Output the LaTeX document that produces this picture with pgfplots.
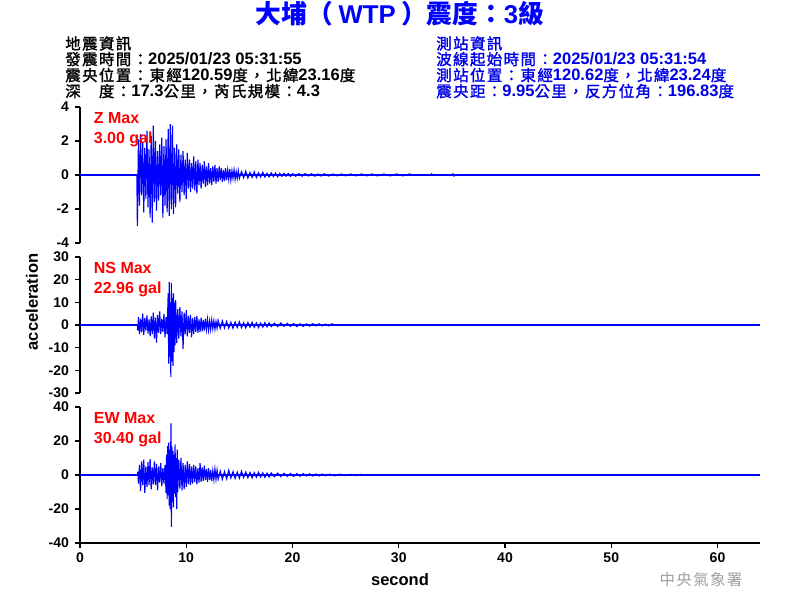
\documentclass[border=0pt]{standalone}
\usepackage{pgfplots}
\pgfplotsset{compat=1.18}
\usepackage{fontspec}
\setmainfont{Liberation Sans}
\newfontfamily\cjk{Noto Sans CJK TC}
\newfontfamily\cjkh[LetterSpace=9, FakeBold=1.6]{Noto Sans CJK TC}
\newfontfamily\cjkf[LetterSpace=9]{Noto Sans CJK TC}
\definecolor{tblue}{RGB}{0,0,255}
\definecolor{hdrblue}{RGB}{0,0,230}
\definecolor{lbred}{RGB}{255,0,0}
\pgfplotsset{
  panel/.style={
    scale only axis, width=510pt, height=102pt,
    xmin=0, xmax=64,
    axis y line*=left,
    axis line style={-, line width=0.9pt},
    tick align=outside,
    major tick length=3.75pt,
    every tick/.style={black, line width=0.9pt},
    yticklabel style={font=\bfseries\fontsize{10.5}{12}\selectfont, xshift=-1pt},
    xticklabel style={font=\bfseries\fontsize{10.5}{12}\selectfont},
    clip=false,
  },
  wave/.style={tblue, line width=0.85pt},
  zline/.style={tblue, line width=0.8pt},
}
\tikzset{lab/.style={anchor=base west, inner sep=0pt, text=lbred, font=\bfseries\fontsize{12}{14}\selectfont}}
\newcommand{\C}[1]{{\cjk\bfseries #1}}
\newcommand{\D}[1]{{\cjkh\mdseries\fontsize{11.6}{14}\selectfont #1}}
\newcommand{\F}[1]{{\cjkf\mdseries\fontsize{11.6}{14}\selectfont #1}}
\begin{document}
\begin{tikzpicture}
\path[use as bounding box] (0,0) rectangle (600pt,450pt);

% ---------- Z ----------
\begin{axis}[panel, at={(60pt,267.75pt)}, anchor=south west,
  ymin=-4, ymax=4, ytick={-4,-2,0,2,4}, yticklabels={-4,-2,0,2,4},
  hide x axis]
\addplot[zline] coordinates {(0,0) (64,0)};
\addplot[wave] coordinates {
(0,0) (5.35,0)
(5.4,-3.0) (5.5,2.1) (5.6,-1.8) (5.7,2.4) (5.8,-1.2) (5.9,1.9) (6.0,-2.2) (6.1,1.6) (6.2,-1.4) (6.3,2.6)
(6.4,-1.9) (6.5,1.5) (6.6,-2.5) (6.7,2.3) (6.8,-2.8) (6.9,2.9) (7.0,-1.6) (7.1,2.0) (7.2,-2.1) (7.3,1.4)
(7.4,-1.5) (7.5,1.8) (7.6,-1.2) (7.7,2.2) (7.8,-2.5) (7.9,1.7) (8.0,-1.8) (8.1,2.1) (8.2,-2.2) (8.3,2.7)
(8.4,-2.4) (8.5,3.0) (8.6,-2.0) (8.7,2.9) (8.8,-2.3) (8.9,1.6) (9.0,-1.9) (9.1,1.8) (9.2,-1.1) (9.3,1.5)
(9.4,-1.6) (9.5,1.2) (9.6,-1.0) (9.7,1.4) (9.8,-1.2) (9.9,0.9) (10.0,-1.4) (10.1,1.3) (10.2,-0.8) (10.3,0.9)
(10.4,-1.0) (10.5,0.7) (10.6,-0.8) (10.7,1.1) (10.8,-0.9) (10.9,0.8) (11.0,-1.1) (11.1,0.9) (11.2,-0.6) (11.3,0.7)
(11.4,-0.8) (11.5,0.6) (11.6,-0.5) (11.7,0.8) (11.8,-0.7) (11.9,0.5) (12.0,-0.6) (12.1,0.7) (12.2,-0.5) (12.3,0.4)
(12.4,-0.6) (12.5,0.5) (12.6,-0.4) (12.7,0.6) (12.8,-0.5) (12.9,0.4) (13.0,-0.4) (13.1,0.5) (13.2,-0.3) (13.3,0.4)
(13.4,-0.4) (13.5,0.3) (13.6,-0.35) (13.7,0.4) (13.8,-0.3) (13.9,0.3) (14.0,-0.25) (14.1,0.35) (14.2,-0.3) (14.3,0.25)
(14.4,-0.2) (14.5,0.3) (14.6,-0.25) (14.7,0.2) (14.8,-0.2) (14.9,0.25) (15.0,-0.2)
(15.2,0.2) (15.4,-0.16) (15.6,0.22) (15.8,-0.18) (16.0,0.15) (16.2,-0.14) (16.4,0.18) (16.6,-0.15) (16.8,0.13) (17.0,-0.12)
(17.2,0.16) (17.4,-0.12) (17.6,0.1) (17.8,-0.11) (18.0,0.13) (18.2,-0.09) (18.4,0.11) (18.6,-0.1) (18.8,0.09) (19.0,-0.08)
(19.2,0.1) (19.4,-0.07) (19.6,0.09) (19.8,-0.08) (20.0,0.08) (20.3,-0.07) (20.6,0.08) (20.9,-0.07) (21.2,0.08) (21.5,-0.06)
(21.8,0.07) (22.1,-0.07) (22.4,0.06) (22.7,-0.06) (23.0,0.07) (23.4,-0.06) (23.8,0.06) (24.2,-0.05) (24.6,0.06) (25.0,-0.05)
(25.5,0.06) (26.0,-0.05) (26.5,0.06) (27.0,-0.05) (27.5,0.06) (28.0,-0.05) (28.6,0.06) (29.2,-0.05) (29.8,0.06) (30.4,-0.05)
(31.0,0.06) (31.4,0) (33.0,0) (33.1,0.07) (33.2,0) (35.0,0) (35.1,0.07) (35.2,-0.06) (35.3,0) (36,0)
};
\node[lab] at (rel axis cs:0.02,0.877) {Z Max};
\node[lab] at (rel axis cs:0.02,0.735) {3.00 gal};
\end{axis}

% ---------- NS ----------
\begin{axis}[panel, at={(60pt,155.25pt)}, anchor=south west,
  ymin=-30, ymax=30, ytick={-30,-20,-10,0,10,20,30}, yticklabels={-30,-20,-10,0,10,20,30},
  hide x axis]
\addplot[zline] coordinates {(0,0) (64,0)};
\addplot[wave] coordinates {
(0,0) (5.4,0)
(5.45,-2.5) (5.5,3.5) (5.6,-4.0) (5.7,2.8) (5.8,-3.2) (5.9,5.0) (6.0,-4.5) (6.1,3.0) (6.2,-2.5) (6.3,4.2)
(6.4,-3.8) (6.5,2.5) (6.6,-5.0) (6.7,3.8) (6.8,-4.0) (6.9,5.5) (7.0,-6.0) (7.1,3.2) (7.2,-7.8) (7.3,4.5)
(7.4,-3.5) (7.5,6.0) (7.6,-4.0) (7.7,2.8) (7.8,-3.0) (7.9,4.8) (8.0,-5.5) (8.1,3.5) (8.2,-4.0) (8.3,14.0)
(8.35,-17.0) (8.4,19.0) (8.45,-14.0) (8.5,10.0) (8.55,-22.96) (8.6,18.5) (8.65,-16.0) (8.7,12.0) (8.75,-18.0) (8.8,14.0)
(8.85,-12.0) (8.9,10.0) (8.95,-9.0) (9.0,11.0) (9.1,-8.0) (9.2,7.0) (9.3,-6.0) (9.4,8.0) (9.5,-5.0) (9.6,6.0)
(9.7,-10.5) (9.8,5.5) (9.9,-4.0) (10.0,6.5) (10.1,-5.0) (10.2,4.0) (10.3,-3.5) (10.4,4.5) (10.5,-5.5) (10.6,3.0)
(10.7,-4.0) (10.8,3.5) (10.9,-3.0) (11.0,4.0) (11.1,-3.5) (11.2,2.5) (11.3,-3.0) (11.4,3.2) (11.5,-2.8) (11.6,2.2)
(11.7,-2.5) (11.8,2.8) (11.9,-2.0) (12.0,2.5) (12.1,-2.2) (12.2,1.8) (12.3,-2.0) (12.4,2.2) (12.5,-1.6) (12.6,1.8)
(12.7,-1.8) (12.8,1.5) (12.9,-1.4) (13.0,2.0)
(13.2,-1.5) (13.4,1.8) (13.6,-1.3) (13.8,1.6) (14.0,-1.4) (14.2,1.2) (14.4,-1.5) (14.6,1.3) (14.8,-1.1) (15.0,1.4)
(15.2,-1.2) (15.4,1.0) (15.6,-1.3) (15.8,1.1) (16.0,-0.9) (16.2,1.2) (16.4,-1.0) (16.6,0.9) (16.8,-1.1) (17.0,0.8)
(17.2,-0.9) (17.4,1.0) (17.6,-0.8) (17.8,0.9) (18.0,-0.7) (18.3,0.8) (18.6,-0.7) (18.9,0.9) (19.2,-0.6) (19.5,0.7)
(19.8,-0.6) (20.1,0.6) (20.4,-0.7) (20.7,0.5) (21.0,-0.6) (21.3,0.5) (21.6,-0.5) (21.9,0.6) (22.2,-0.4) (22.5,0.5)
(22.8,-0.4) (23.1,0.4) (23.4,-0.4) (23.7,0.5) (24.0,0)
};
\node[lab] at (rel axis cs:0.02,0.877) {NS Max};
\node[lab] at (rel axis cs:0.02,0.735) {22.96 gal};
\end{axis}

% ---------- EW ----------
\begin{axis}[panel, at={(60pt,42.75pt)}, anchor=south west,
  ymin=-40, ymax=40, ytick={-40,-20,0,20,40}, yticklabels={-40,-20,0,20,40},
  axis x line*=bottom,
  xtick={0,10,20,30,40,50,60}, xticklabels={0,10,20,30,40,50,60}]
\addplot[zline] coordinates {(0,0) (64,0)};
\addplot[wave] coordinates {
(0,0) (5.4,0)
(5.45,2.0) (5.5,-5.0) (5.6,6.0) (5.7,-9.5) (5.8,8.0) (5.9,-6.0) (6.0,9.0) (6.1,-10.5) (6.2,5.0) (6.3,-7.0)
(6.4,7.5) (6.5,-6.0) (6.6,9.5) (6.7,-8.5) (6.8,4.5) (6.9,-5.5) (7.0,8.0) (7.1,-6.0) (7.2,6.5) (7.3,-9.0)
(7.4,5.0) (7.5,-4.5) (7.6,7.0) (7.7,-6.5) (7.8,4.0) (7.9,-5.0) (8.0,6.0) (8.1,-10.5) (8.15,12.0) (8.2,-14.0)
(8.25,17.0) (8.3,-12.0) (8.35,19.0) (8.4,-18.0) (8.45,15.0) (8.5,-20.0) (8.56,30.4) (8.6,-30.5) (8.65,17.0) (8.7,-16.0)
(8.75,14.0) (8.8,-19.0) (8.85,12.0) (8.9,-11.0) (8.95,18.0) (9.0,-13.0) (9.05,10.0) (9.1,-20.0) (9.15,15.0) (9.2,-10.0)
(9.3,9.0) (9.4,-8.0) (9.5,10.0) (9.6,-9.0) (9.7,7.0) (9.8,-8.5) (9.9,6.0) (10.0,-7.0) (10.1,8.0) (10.2,-5.5)
(10.3,6.5) (10.4,-6.0) (10.5,5.0) (10.6,-5.0) (10.7,6.0) (10.8,-4.0) (10.9,5.0) (11.0,-5.5) (11.1,4.0) (11.2,-4.5)
(11.3,7.0) (11.4,-4.0) (11.5,4.5) (11.6,-3.5) (11.7,5.5) (11.8,-3.0) (11.9,3.5) (12.0,-4.0) (12.1,4.0) (12.2,-3.0)
(12.3,3.0) (12.4,-3.5) (12.5,2.5) (12.6,-2.8) (12.7,3.5) (12.8,-2.5) (12.9,2.8) (13.0,-2.5)
(13.2,2.2) (13.4,-2.5) (13.6,2.0) (13.8,-2.2) (14.0,2.8) (14.2,-1.8) (14.4,2.0) (14.6,-2.0) (14.8,1.7) (15.0,-1.9)
(15.2,2.2) (15.4,-1.5) (15.6,1.8) (15.8,-1.6) (16.0,1.5) (16.2,-1.7) (16.4,1.4) (16.6,-1.3) (16.8,1.6) (17.0,-1.2)
(17.2,1.3) (17.4,-1.4) (17.6,1.1) (17.8,-1.2) (18.0,1.2) (18.3,-1.0) (18.6,1.1) (18.9,-0.9) (19.2,1.0) (19.5,-0.8)
(19.8,0.9) (20.1,-0.8) (20.4,0.8) (20.7,-0.7) (21.0,0.8) (21.3,-0.6) (21.6,0.7) (21.9,-0.6) (22.2,0.6) (22.5,-0.5)
(22.8,0.6) (23.1,-0.5) (23.5,0.5) (24.0,-0.5) (24.5,0.5) (25.0,-0.4) (25.5,0.4) (26.0,-0.4) (26.4,0.4) (26.6,0)
};
\node[lab] at (rel axis cs:0.02,0.877) {EW Max};
\node[lab] at (rel axis cs:0.02,0.735) {30.40 gal};
\end{axis}

% ---------- texts ----------
\node[anchor=base, inner sep=0pt, text=tblue, font=\bfseries\fontsize{19.3}{21}\selectfont] at (300pt,432.5pt)
  {\C{大埔（}\hspace{4pt}WTP\hspace{4pt}\C{）震度：}3\C{級}};
\begin{scope}[font=\bfseries\fontsize{12.4}{14}\selectfont, every node/.style={inner sep=0pt}]
\node[anchor=base west] at (48.75pt,413pt) {\D{地震資訊}};
\node[anchor=base west] at (48.75pt,401.25pt) {\D{發震時間：}2025/01/23 05:31:55};
\node[anchor=base west] at (48.75pt,389.25pt) {\D{震央位置：東經}120.59\D{度，北緯}23.16\D{度}};
\node[anchor=base west] at (48.75pt,377.25pt) {\D{深　度：}17.3\D{公里，芮氏規模：}4.3};
\node[anchor=base west, text=hdrblue] at (327pt,413pt) {\D{測站資訊}};
\node[anchor=base west, text=hdrblue] at (327pt,401.25pt) {\D{波線起始時間：}2025/01/23 05:31:54};
\node[anchor=base west, text=hdrblue] at (327pt,389.25pt) {\D{測站位置：東經}120.62\D{度，北緯}23.24\D{度}};
\node[anchor=base west, text=hdrblue] at (327pt,377.25pt) {\D{震央距：}9.95\D{公里，反方位角：}196.83\D{度}};
\node[rotate=90] at (24pt,223.5pt) {acceleration};
\node at (300pt,15pt) {second};
\node[text=black!38] at (525.75pt,15pt) {\F{中央氣象署}};
\end{scope}
\end{tikzpicture}
\end{document}
